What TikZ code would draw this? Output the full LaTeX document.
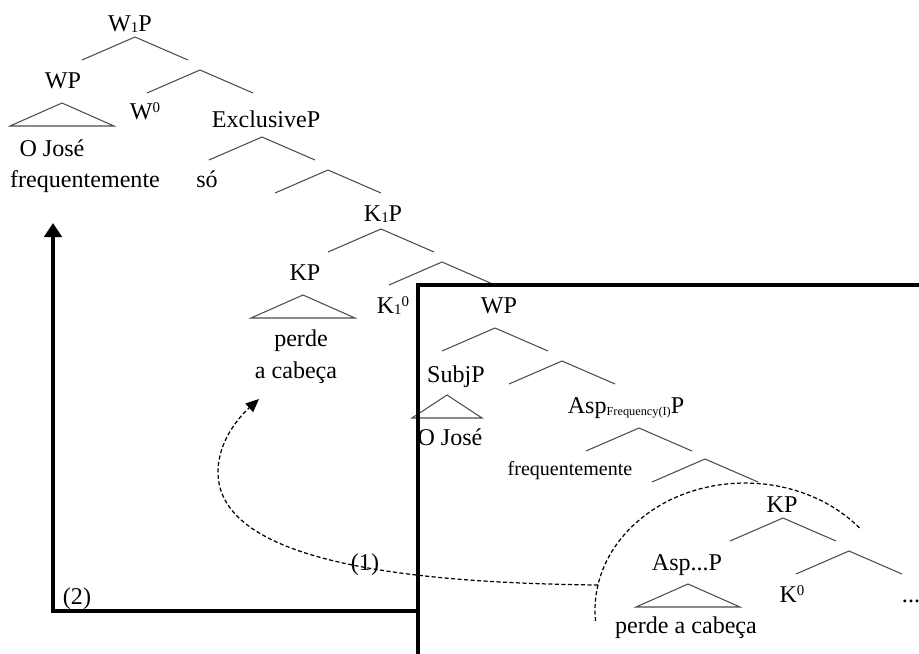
\documentclass[tikz,border=0pt]{standalone}
\usepackage{fontspec}
\setmainfont{Liberation Serif}
\usetikzlibrary{arrows.meta}
\newcommand{\lowidx}[1]{\raisebox{-1.1pt}{\fontsize{8.5}{9}\selectfont #1}}
\newcommand{\highidx}[1]{\raisebox{3.6pt}{\fontsize{8.5}{9}\selectfont #1}}
\newcommand{\lowtag}[1]{\raisebox{-1.5pt}{\fontsize{7}{8}\selectfont #1}}
\tikzset{
    cat/.style = {anchor=base, inner sep=0pt, font=\fontsize{13.7}{16}\selectfont},
    word/.style = {anchor=base, inner sep=0pt, font=\fontsize{13.7}{16}\selectfont},
    smallword/.style = {anchor=base, inner sep=0pt, font=\fontsize{11.4}{14}\selectfont},
    branch/.style = {draw=black!70, line width=0.6pt},
    frame/.style = {draw=black, line width=1.9pt},
    arcline/.style = {draw=black, line width=0.7pt, dash pattern=on 2.3pt off 1.4pt},
    moveA/.style = {draw=black, line width=0.7pt, dash pattern=on 2.3pt off 1.4pt, -{Triangle[width=6.5pt,length=7.5pt]}},
    moveB/.style = {draw=black, line width=1.9pt, -{Triangle[width=10pt,length=8pt]}},
    caret/.pic = {\draw[branch] (-53,-23) -- (0,0) -- (53,-23);},
    roof/.pic = {\draw[branch] (-#1,-23) -- (0,0) -- (#1,-23) -- cycle;}
}

\begin{document}
\begin{tikzpicture}[x=0.2mm,y=0.2mm]
\useasboundingbox (0,0) rectangle (919,-653);
%
% upper tree
\node[cat] at (130,-31) (w1p) {W\lowidx{1}P};
\node[cat] at (63,-88) (wpA) {WP};
\node[word] at (52,-156) (joseA) {O José};
\node[word] at (85,-187) (freqA) {frequentemente};
\node[cat] at (145,-119) (w0) {W\highidx{0}};
\node[cat] at (266,-127) (exclp) {ExclusiveP};
\node[word] at (207,-187) (so) {só};
\node[cat] at (383,-221) (k1p) {K\lowidx{1}P};
\node[cat] at (305,-280) (kpA) {KP};
\node[word] at (301,-346) (perdeA) {perde};
\node[word] at (296,-378) (cabecaA) {a cabeça};
\node[cat] at (393,-313) (k10) {K\lowidx{1}\highidx{0}};
%
\pic at (135,-37) {caret};
\pic at (200,-70) {caret};
\pic at (262,-137) {caret};
\pic at (328,-170) {caret};
\pic at (381,-229) {caret};
\pic at (442,-262) {caret};
\pic at (62,-103) {roof=52};
\pic at (303,-295) {roof=52};
%
% lower tree
\node[cat] at (499,-313) (wpB) {WP};
\node[cat] at (456,-382) (subjp) {SubjP};
\node[word] at (450,-445) (joseB) {O José};
\node[cat] at (626,-413) (aspfp) {Asp\lowtag{Frequency(I)}P};
\node[smallword] at (570,-475) (freqB) {frequentemente};
\node[cat] at (782,-512) (kpB) {KP};
\node[cat] at (687,-570) (aspp) {Asp...P};
\node[word] at (686,-633) (perdeB) {perde a cabeça};
\node[cat] at (792,-602) (k0) {K\highidx{0}};
\node[word] at (911,-602) (dots) {...};
%
\pic at (495,-328) {caret};
\pic at (562,-361) {caret};
\pic at (639,-428) {caret};
\pic at (705,-459) {caret};
\pic at (783,-518) {caret};
\pic at (849,-551) {caret};
\pic at (447,-395) {roof=35};
\pic at (688,-584) {roof=52};
%
% box and movements
\coordinate (boxtr) at (925,-285);
\coordinate (boxtl) at (418,-285);
\coordinate (boxbl) at (418,-660);
\coordinate (boxjoin) at (418,-611);
\coordinate (corner2) at (53,-611);
\coordinate (landB) at (53,-223);
\coordinate (startA) at (598,-585);
\coordinate (bendA) at (218,-472);
\coordinate (landA) at (259,-399);
%
\draw[frame] (boxtr) -- (boxtl) -- (boxbl);
\draw[moveB] (boxjoin) -- (corner2) -- (landB);
\draw[arcline] (595.6,-621.1) arc[start angle=185, end angle=40, x radius=150, y radius=127];
\draw[moveA] (startA) .. controls (420,-583) and (218,-565) .. (bendA)
    .. controls (218,-442) and (238,-418) .. (landA);
%
\node[word] at (365,-570) (tag1) {(1)};
\node[word] at (77,-604) (tag2) {(2)};

\end{tikzpicture}
\end{document}
